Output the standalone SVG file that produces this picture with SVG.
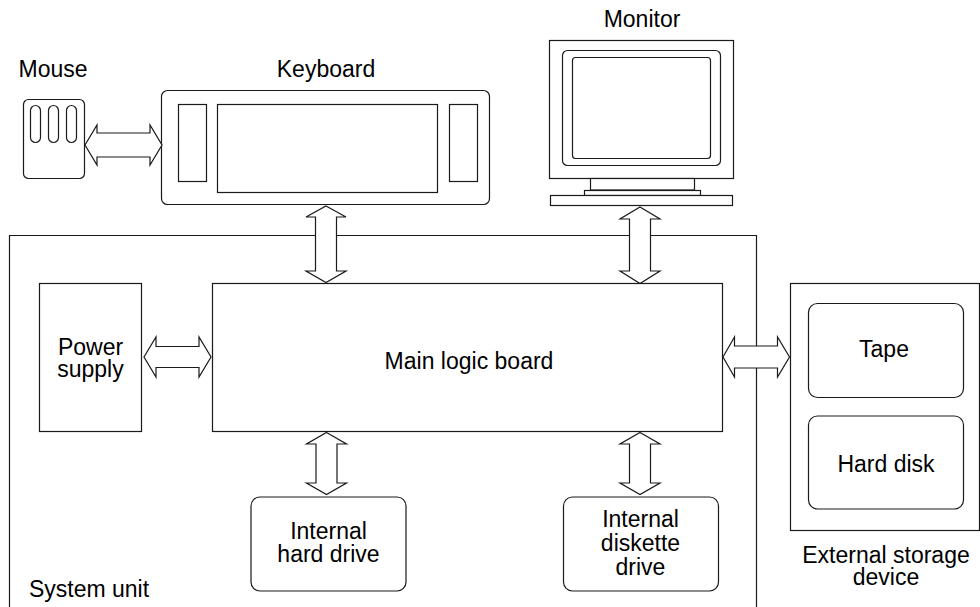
<svg xmlns="http://www.w3.org/2000/svg" width="980" height="607" viewBox="0 0 980 607">
<style>
.ln{fill:#fff;stroke:#1a1a1a;stroke-width:1.2}
.nf{fill:none;stroke:#1a1a1a;stroke-width:1.2}
.ar{fill:#fff;stroke:#1a1a1a;stroke-width:1.2;stroke-linejoin:miter}
text{font-family:"Liberation Sans",Arial,sans-serif;font-size:23px;fill:#000;text-anchor:middle}
</style>
<rect width="980" height="607" fill="#fff"/>
<g id="system-unit">
<path class="nf" d="M9.5,607 L9.5,235.5 L756.5,235.5 L756.5,607"/>
<text x="89" y="597">System unit</text>
</g>
<g id="mouse">
<text x="53" y="77">Mouse</text>
<rect class="ln" x="23.5" y="99.5" width="61" height="79" rx="5"/>
<rect class="ln" x="30.5" y="105.5" width="10" height="37" rx="5"/>
<rect class="ln" x="48.5" y="105.5" width="10" height="37" rx="5"/>
<rect class="ln" x="66.5" y="105.5" width="10" height="37" rx="5"/>
</g>
<g id="keyboard">
<text x="326" y="77">Keyboard</text>
<rect class="ln" x="161.5" y="90.5" width="328" height="114" rx="6"/>
<rect class="ln" x="178.5" y="104.5" width="28" height="77"/>
<rect class="ln" x="217.5" y="104.5" width="220" height="88"/>
<rect class="ln" x="449.5" y="104.5" width="28" height="77"/>
</g>
<g id="monitor">
<text x="642" y="27">Monitor</text>
<rect class="ln" x="549.5" y="40.5" width="184" height="138"/>
<rect class="ln" x="562.5" y="50.5" width="158" height="115" rx="5"/>
<rect class="ln" x="572.5" y="57.5" width="138" height="101" rx="3"/>
<rect class="ln" x="590.5" y="178.5" width="104" height="11.5"/>
<rect class="ln" x="584.5" y="190.5" width="116" height="5"/>
<rect class="ln" x="550.5" y="195.5" width="182" height="10"/>
</g>
<g id="power-supply">
<rect class="ln" x="39.5" y="283.5" width="102" height="148"/>
<text x="90.5" y="355">Power</text>
<text x="90.5" y="377">supply</text>
</g>
<g id="main-logic-board">
<rect class="ln" x="212.5" y="283.5" width="510" height="148"/>
<text x="469" y="369">Main logic board</text>
</g>
<g id="internal-hard-drive">
<rect class="ln" x="251" y="497" width="155" height="94" rx="9"/>
<text x="328.5" y="539">Internal</text>
<text x="328.5" y="562">hard drive</text>
</g>
<g id="internal-diskette-drive">
<rect class="ln" x="563.5" y="497" width="155" height="94" rx="9"/>
<text x="640.5" y="527">Internal</text>
<text x="640.5" y="551">diskette</text>
<text x="640.5" y="575">drive</text>
</g>
<g id="external-storage">
<rect class="ln" x="790.5" y="283.5" width="189" height="247"/>
<rect class="ln" x="808.5" y="303.5" width="155" height="94" rx="9"/>
<text x="884" y="357">Tape</text>
<rect class="ln" x="808.5" y="416" width="155" height="93" rx="9"/>
<text x="886" y="472">Hard disk</text>
<text x="886" y="563">External storage</text>
<text x="886" y="585">device</text>
</g>
<g id="connectors">
<path class="ar" d="M85,145 L97,125 L97,133 L150,133 L150,125 L162,145 L150,165 L150,157 L97,157 L97,165 Z"/>
<path class="ar" d="M326,206 L346,217 L336.5,217 L336.5,271 L346,271 L326,282.5 L306,271 L315.5,271 L315.5,217 L306,217 Z"/>
<path class="ar" d="M640,207 L660,219 L650.5,219 L650.5,271 L660,271 L640,283.5 L620,271 L629.5,271 L629.5,219 L620,219 Z"/>
<path class="ar" d="M144,357 L156,337 L156,346.5 L199,346.5 L199,337 L211,357 L199,377 L199,367.5 L156,367.5 L156,377 Z"/>
<path class="ar" d="M723,357 L734.5,337 L734.5,346 L777.5,346 L777.5,337 L789.5,357 L777.5,377 L777.5,368 L734.5,368 L734.5,377 Z"/>
<path class="ar" d="M326.5,432.5 L346.5,444 L337,444 L337,483 L346.5,483 L326.5,494.5 L306.5,483 L316,483 L316,444 L306.5,444 Z"/>
<path class="ar" d="M640,432.5 L660,444 L650.5,444 L650.5,483 L660,483 L640,494.5 L620,483 L629.5,483 L629.5,444 L620,444 Z"/>
</g>
</svg>
